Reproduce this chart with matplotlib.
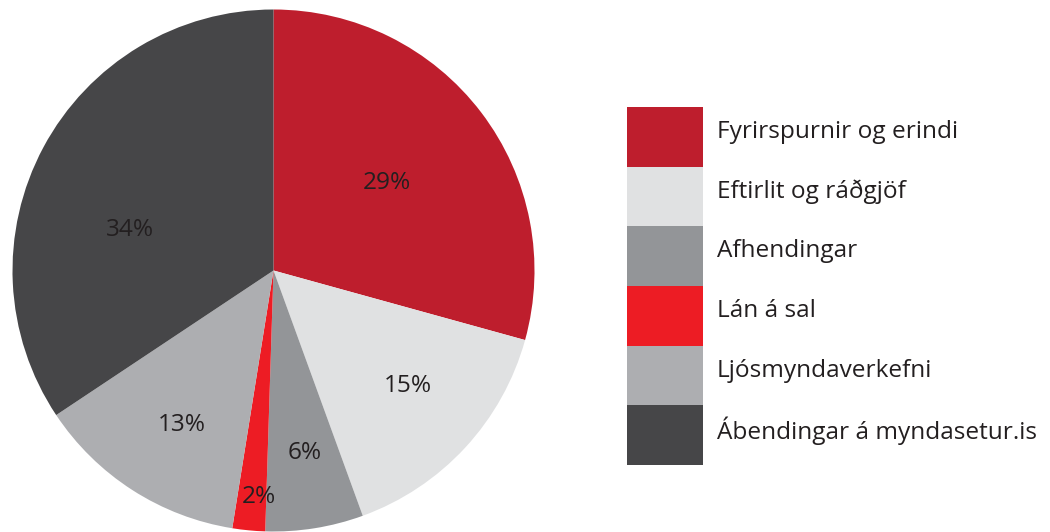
import matplotlib
matplotlib.use("Agg")
import matplotlib.pyplot as plt
from matplotlib.patches import Rectangle
import numpy as np

categories = ["Fyrirspurnir og erindi", "Eftirlit og ráðgjöf", "Afhendingar",
              "Lán á sal", "Ljósmyndaverkefni", "Ábendingar á myndasetur.is"]
values = [29, 15, 6, 2, 13, 34]
pct_labels = ["29%", "15%", "6%", "2%", "13%", "34%"]
colors = ["#BE1E2D", "#E0E1E2", "#939598", "#ED1C24", "#ADAEB1", "#464648"]
# label placement (radius fraction, angle offset in degrees)
label_r = [0.55, 0.68, 0.71, 0.87, 0.69, 0.57]
label_dang = [0.5, 2, 0.5, 1.7, 2, 12.5]

plt.rcParams['font.family'] = ['Open Sans', 'DejaVu Sans']
txt_color = "#231F20"
fs = 17.6

fig = plt.figure(figsize=(10.5, 5.32), dpi=100)
W, H = 1050, 532
cx, cy, R = 273.5, 270.5, 261
ax = fig.add_axes([(cx - R) / W, (H - cy - R) / H, 2 * R / W, 2 * R / H])
wedges, _ = ax.pie(values, colors=colors, startangle=90, counterclock=False,
                   radius=1, wedgeprops=dict(linewidth=0))
ax.set_xlim(-1, 1)
ax.set_ylim(-1, 1)
ax.set_aspect('equal')
ax.axis('off')
for w, lab, r, da in zip(wedges, pct_labels, label_r, label_dang):
    mid = np.deg2rad((w.theta1 + w.theta2) / 2 + da)
    ax.text(r * np.cos(mid), r * np.sin(mid), lab, ha='center', va='center',
            fontsize=fs, color=txt_color)

# legend
lx0, ly_top, ly_bot = 627, 107, 465
lax = fig.add_axes([lx0 / W, (H - ly_bot) / H, (W - lx0) / W, (ly_bot - ly_top) / H])
lax.set_xlim(0, W - lx0)
n = len(categories)
lax.set_ylim(n, 0)
lax.axis('off')
for i, (cat, col) in enumerate(zip(categories, colors)):
    lax.add_patch(Rectangle((0, i), 76, 1, facecolor=col, edgecolor='none'))
    lax.text(90, i + 0.42, cat, ha='left', va='center', fontsize=fs, color=txt_color)

fig.savefig("out.png", dpi=100)
